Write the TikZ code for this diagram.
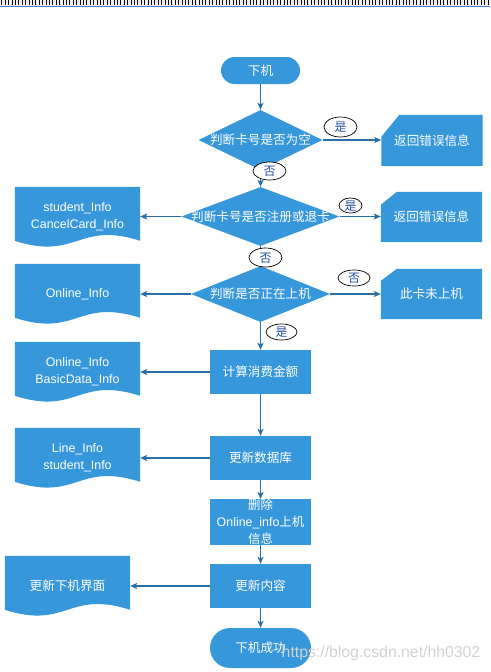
\documentclass[tikz,border=0pt]{standalone}
\usepackage{fontspec}
\setmainfont{Liberation Sans}
\newfontfamily\cjk{Noto Sans CJK SC}
\usetikzlibrary{shapes.geometric,shapes.misc,arrows.meta,backgrounds,calc}
\definecolor{boxblue}{RGB}{54,151,219}
\definecolor{arrowblue}{RGB}{41,110,168}
\definecolor{tagblue}{RGB}{38,78,160}
\definecolor{rulerblue}{RGB}{70,125,210}
\newcommand\tagtxt[1]{\raisebox{-0.38em}[0pt][0pt]{#1}}
\begin{document}
\begin{tikzpicture}[x=1pt,y=-1pt,
 zh/.style={font=\cjk\fontsize{12.6}{17}\selectfont},
 en/.style={font=\fontsize{12.4}{17}\selectfont},
 term/.style={rounded rectangle, fill=boxblue, text=white, inner sep=0pt, zh},
 box/.style={rectangle, fill=boxblue, text=white, inner sep=0pt, minimum width=101pt, minimum height=44pt, align=center, zh},
 dec/.style={diamond, fill=boxblue, text=white, inner sep=0pt, zh},
 card/.style={rectangle, text=white, inner sep=0pt, minimum width=101pt, minimum height=51pt, zh},
 doc/.style={rectangle, text=white, inner sep=0pt, minimum width=125pt, minimum height=60pt, align=center},
 tag/.style={ellipse, draw=black, line width=0.7pt, fill=white, text=tagblue, inner sep=0pt, font=\cjk\fontsize{12}{12}\selectfont},
 arr/.style={draw=arrowblue, line width=1.1pt, -{Stealth[length=7pt,width=6pt,inset=1.5pt]}},
]
\useasboundingbox (0,0) rectangle (490,672);
% ruler
\fill[gray!10] (0,0) rectangle (490,5.5);
\foreach \i in {0,...,143} {\draw[line width=0.5pt] ({1.7+\i*3.4},0) -- ++(0,4.8);}
\draw[rulerblue, line width=1pt] (0,6) -- (490,6);

% nodes
\node[term, minimum width=79pt, minimum height=27pt] (start) at (260.5,70.5) {下机};
\node[dec, minimum width=124pt, minimum height=60pt] (d1) at (260.5,140) {\makebox[0pt]{判断卡号是否为空}};
\node[card] (e1) at (432,140.5) {返回错误信息};
\node[dec, minimum width=158pt, minimum height=59pt] (d2) at (260.5,216.5) {\makebox[0pt]{判断卡号是否注册或退卡}};
\node[card, minimum height=50pt] (e2) at (431.5,217) {返回错误信息};
\node[doc, en] (doc1) at (77.5,217) {student\_Info\\CancelCard\_Info};
\node[dec, minimum width=139pt, minimum height=56pt] (d3) at (260.5,294) {\makebox[0pt]{判断是否正在上机}};
\node[card, minimum height=50pt] (e3) at (431.5,294) {此卡未上机};
\node[doc, en] (doc2) at (77.5,294) {Online\_Info};
\node[box] (r1) at (260.5,372) {计算消费金额};
\node[doc, en] (doc3) at (77.5,372) {Online\_Info\\BasicData\_Info};
\node[box] (r2) at (260.5,458) {更新数据库};
\node[doc, en] (doc4) at (77.5,458) {Line\_Info\\student\_Info};
\node[box, en] (r3) at (260.5,522) {{\cjk 删除}\\Online\_info{\cjk 上机}\\{\cjk 信息}};
\node[box] (r4) at (260.5,586) {更新内容};
\node[doc, zh] (doc5) at (67.5,586) {更新下机界面};
\node[term, minimum width=101pt, minimum height=40pt] (end) at (260.5,648) {下机成功};

% shaped fills
\begin{scope}[on background layer]
 \fill[boxblue] ([xshift=18pt]e1.north west) -- (e1.north east) -- (e1.south east) -- (e1.south west) -- ([yshift=-22pt]e1.north west) -- cycle;
 \fill[boxblue] ([xshift=16pt]e2.north west) -- (e2.north east) -- (e2.south east) -- (e2.south west) -- ([yshift=-13pt]e2.north west) -- cycle;
 \fill[boxblue] ([xshift=16pt]e3.north west) -- (e3.north east) -- (e3.south east) -- (e3.south west) -- ([yshift=-12pt]e3.north west) -- cycle;
 \foreach \d in {doc1,doc2,doc3,doc4,doc5} {
  \fill[boxblue] (\d.north west) -- (\d.north east) -- ($(\d.north east)+(0,54)$)
   .. controls ($(\d.north east)+(-62.5,34)$) and ($(\d.north west)+(62.5,74)$) .. ($(\d.north west)+(0,54)$) -- cycle;
 }
\end{scope}

% connectors
\draw[arr] (start.south) -- (d1.north);
\draw[arr] (d1.east) -- (d1.east -| e1.west);
\draw[arr] (d1.south) -- (d2.north);
\draw[arr] (d2.west) -- (d2.west -| doc1.east);
\draw[arr] (d2.east) -- (d2.east -| e2.west);
\draw[arr] (d2.south) -- (d3.north);
\draw[arr] (d3.west) -- (d3.west -| doc2.east);
\draw[arr] (d3.east) -- (d3.east -| e3.west);
\draw[arr] (d3.south) -- (r1.north);
\draw[arr] (r1.west) -- (r1.west -| doc3.east);
\draw[arr] (r1.south) -- (r2.north);
\draw[arr] (r2.west) -- (r2.west -| doc4.east);
\draw[arr] (r2.south) -- (r3.north);
\draw[arr] (r3.south) -- (r4.north);
\draw[arr] (r4.west) -- (r4.west -| doc5.east);
\draw[arr] (r4.south) -- (end.north);

% yes / no tags
\node[tag, minimum width=33pt, minimum height=20pt] (y1) at (340.5,127) {\tagtxt{是}};
\node[tag, minimum width=33pt, minimum height=18pt] (n1) at (269.5,171) {\tagtxt{否}};
\node[tag, minimum width=23pt, minimum height=15pt] (y2) at (350.5,205.5) {\tagtxt{是}};
\node[tag, minimum width=33pt, minimum height=19pt] (n2) at (265.5,257.5) {\tagtxt{否}};
\node[tag, minimum width=32pt, minimum height=16pt] (n3) at (354,278) {\tagtxt{否}};
\node[tag, minimum width=31pt, minimum height=16pt] (y3) at (281.5,332) {\tagtxt{是}};

% watermark
\node[font=\fontsize{15.8}{16}\selectfont, text=gray!35, inner sep=0pt] (wm) at (381,653) {https://blog.csdn.net/hh0302};
\end{tikzpicture}
\end{document}
